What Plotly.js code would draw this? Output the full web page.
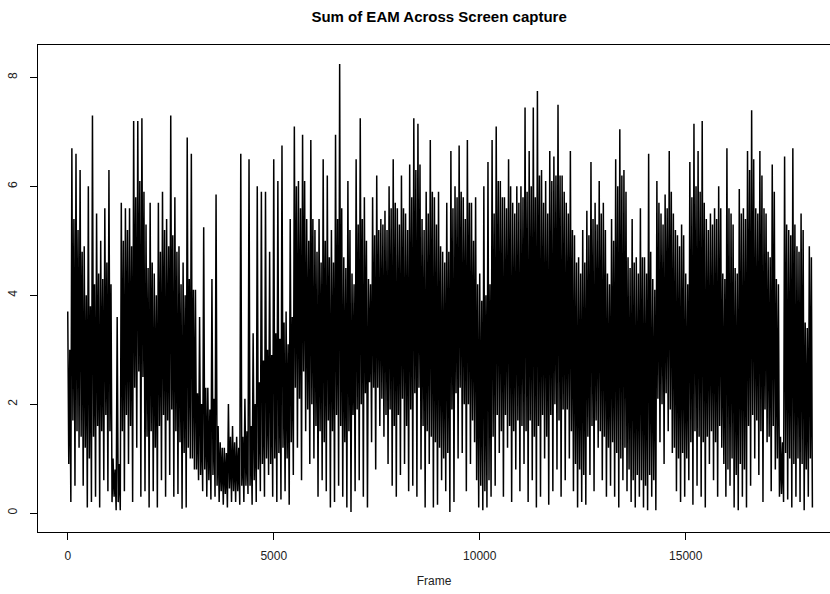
<!DOCTYPE html>
<html>
<head>
<meta charset="utf-8">
<script src="https://cdn.plot.ly/plotly-3.0.1.min.js"></script>
<style>
  html, body { margin: 0; padding: 0; background: #fff; overflow: hidden; }
  #chart { width: 830px; height: 594px; }
</style>
</head>
<body>
<div id="chart"></div>
<script>
// Each block of 100 frames: local peak, core low, core high, local trough
const blockFrames = 100;
const peaks = [
  3.7, 6.7, 6.6, 6.3, 4.9, 6.0, 7.3, 5.5, 5.0, 5.6,
  6.3, 1.0, 3.6, 5.7, 5.6, 5.6, 7.2, 7.2, 7.25, 5.3,
  5.7, 4.4, 5.7, 5.9, 5.4, 7.3, 5.8, 4.9, 4.6, 6.9,
  6.6, 4.1, 3.6, 5.25, 2.3, 4.3, 5.85, 1.3, 1.2, 2.0,
  1.6, 1.4, 6.6, 2.1, 6.5, 3.3, 6.0, 5.9, 5.9, 4.8,
  6.5, 6.1, 6.75, 3.7, 5.4, 7.1, 6.1, 6.95, 5.4, 6.85,
  5.2, 5.4, 6.5, 6.2, 5.2, 6.95, 8.25, 4.7, 6.1, 4.4,
  6.5, 7.25, 5.8, 4.3, 5.8, 6.2, 5.4, 5.55, 6.0, 6.5,
  5.6, 6.2, 5.5, 6.4, 7.25, 7.15, 5.4, 5.9, 6.85, 5.8,
  5.9, 4.8, 5.7, 6.65, 6.0, 6.75, 5.8, 6.85, 5.7, 5.8,
  4.4, 6.0, 6.45, 6.85, 7.1, 6.1, 5.8, 6.5, 5.7, 6.0,
  6.0, 7.45, 6.65, 7.45, 7.75, 6.3, 6.1, 6.65, 6.55, 7.5,
  6.2, 5.7, 6.65, 5.1, 4.7, 5.2, 5.55, 6.45, 5.7, 6.1,
  5.7, 4.4, 5.4, 6.5, 7.05, 6.3, 4.7, 5.4, 4.7, 5.6,
  4.7, 6.6, 4.3, 6.1, 5.5, 5.85, 6.65, 5.5, 5.1, 5.3,
  4.4, 6.45, 7.15, 6.65, 7.2, 5.4, 5.5, 5.6, 6.0, 4.4,
  6.7, 5.5, 4.5, 5.95, 5.6, 6.65, 7.4, 5.6, 6.65, 5.6,
  4.8, 6.4, 4.3, 1.4, 6.55, 5.2, 6.7, 4.9, 5.5, 3.5,
  4.9
];
const coreLow = [
  0.9, 1.7, 1.5, 1.4, 1.2, 1.0, 1.4, 1.6, 1.5, 1.8,
  1.5, 0.3, 0.2, 1.5, 1.8, 1.6, 2.3, 2.6, 2.5, 1.4,
  1.5, 1.2, 1.6, 1.8, 1.7, 1.9, 1.5, 1.3, 1.1, 1.2,
  1.0, 0.8, 0.7, 0.8, 0.6, 0.7, 0.5, 0.4, 0.35, 0.45,
  0.4, 0.4, 0.5, 0.5, 0.5, 0.6, 0.8, 0.9, 1.0, 0.9,
  1.0, 1.1, 1.2, 1.0, 1.3, 2.3, 2.1, 2.6, 1.9, 2.0,
  1.6, 1.5, 1.3, 1.7, 1.5, 1.8, 1.6, 1.3, 1.5, 1.8,
  1.9, 2.0, 2.2, 2.4, 2.3, 2.3, 2.1, 1.8, 1.9, 1.6,
  1.8, 2.1, 1.6, 1.9, 2.2, 2.3, 1.6, 1.5, 1.4, 1.3,
  1.2, 1.0, 1.1, 1.9, 2.2, 2.3, 2.0, 2.0, 1.7, 0.6,
  0.5, 0.4, 0.6, 1.4, 1.8, 1.5, 1.8, 1.6, 1.5, 1.7,
  1.6, 1.5, 1.7, 1.4, 1.6, 1.8, 1.4, 1.8, 2.0, 1.7,
  1.9, 1.9, 1.5, 0.9, 0.8, 0.7, 1.4, 1.6, 1.7, 1.5,
  1.4, 1.2, 1.3, 1.1, 1.0, 1.2, 0.8, 0.6, 0.7, 0.6,
  0.5, 0.7, 0.6, 2.1, 2.0, 2.2, 1.9, 1.2, 1.0, 1.1,
  1.0, 1.3, 1.5, 1.4, 1.3, 1.4, 1.5, 1.3, 1.6, 0.9,
  0.8, 1.0, 0.7, 0.9, 0.8, 1.6, 1.8, 1.7, 1.5, 1.9,
  1.4, 1.6, 1.0, 0.35, 1.1, 1.0, 0.9, 1.0, 0.9, 0.8,
  1.0
];
const coreHigh = [
  3.0, 5.4, 5.2, 4.8, 4.0, 3.8, 4.2, 4.4, 4.3, 4.6,
  4.2, 0.8, 0.9, 5.0, 5.2, 4.9, 5.8, 6.1, 5.9, 4.5,
  4.6, 4.0, 4.8, 5.2, 4.9, 5.1, 4.8, 4.2, 4.0, 4.3,
  4.1, 2.2, 2.0, 2.3, 1.9, 2.1, 1.6, 1.2, 1.1, 1.4,
  1.3, 1.2, 1.4, 1.5, 1.6, 2.0, 2.4, 2.8, 3.0, 2.9,
  3.3, 3.2, 3.5, 3.1, 3.6, 6.0, 5.6, 6.1, 5.0, 5.4,
  4.8, 4.6, 5.0, 4.7, 4.6, 5.4, 5.6, 4.5, 5.2, 4.2,
  5.3, 5.4, 5.0, 4.2, 5.1, 5.2, 5.3, 5.2, 5.6, 5.7,
  5.3, 5.6, 5.2, 5.8, 6.3, 6.4, 5.2, 5.5, 5.9, 5.3,
  4.9, 4.6, 4.8, 5.6, 5.8, 5.9, 5.4, 5.7, 5.0, 4.2,
  3.9, 4.0, 4.2, 5.5, 6.1, 5.8, 5.6, 6.0, 5.5, 5.7,
  5.8, 5.9, 6.0, 5.8, 6.2, 5.7, 5.5, 6.1, 6.2, 6.2,
  5.9, 5.5, 5.2, 4.6, 4.4, 4.6, 5.1, 5.4, 5.3, 5.5,
  5.2, 4.2, 5.0, 6.0, 6.2, 5.9, 4.5, 4.6, 4.4, 4.7,
  4.4, 4.8, 4.1, 5.7, 5.3, 5.6, 5.9, 5.2, 4.9, 5.1,
  4.2, 5.8, 6.0, 5.9, 5.7, 5.2, 5.3, 5.4, 5.6, 4.3,
  5.6, 5.3, 4.4, 5.5, 5.4, 6.3, 6.5, 5.5, 6.2, 5.5,
  4.7, 5.9, 4.2, 1.3, 5.3, 5.1, 5.3, 4.8, 5.2, 3.4,
  4.7
];
const troughs = [
  0.2, 0.5, 1.2, 0.5, 0.1, 0.2, 0.3, 0.1, 0.6, 0.4,
  0.2, 0.05, 0.05, 0.4, 0.9, 0.2, 1.2, 0.3, 0.4, 0.1,
  0.4, 0.1, 0.6, 0.3, 0.7, 0.3, 0.35, 0.08, 0.1, 1.0,
  0.8, 0.6, 0.4, 0.3, 0.25, 0.3, 0.2, 0.15, 0.1, 0.2,
  0.2, 0.15, 0.2, 0.35, 0.15, 0.2, 0.4, 0.3, 0.7, 0.3,
  0.2, 0.25, 0.4, 0.15, 0.7, 1.2, 0.6, 1.5, 0.9, 1.0,
  0.3, 0.6, 0.4, 0.1, 0.2, 0.5, 0.3, 0.1, 0.02, 0.4,
  0.6, 0.3, 0.1, 1.3, 0.8, 1.6, 1.4, 0.9, 0.5, 0.3,
  0.7, 0.9, 0.4, 0.5, 0.3, 0.8, 0.1, 0.9, 0.1, 0.15,
  0.6, 0.4, 0.02, 0.2, 1.0, 1.1, 0.4, 0.9, 1.3, 0.1,
  0.05, 0.1, 0.3, 0.5, 1.1, 0.3, 1.2, 0.2, 0.8, 0.4,
  0.9, 0.2, 0.6, 0.1, 0.3, 1.0, 0.15, 0.4, 0.8, 0.3,
  0.6, 1.0, 0.4, 0.1, 0.2, 0.15, 0.7, 0.4, 1.2, 0.6,
  0.3, 0.5, 0.3, 0.1, 0.6, 0.4, 0.2, 0.1, 0.3, 0.1,
  0.05, 0.3, 0.05, 1.3, 0.9, 1.5, 1.1, 0.4, 0.2, 0.3,
  0.6, 0.15, 0.5, 0.3, 0.1, 0.9, 0.6, 0.3, 1.2, 0.3,
  0.5, 0.1, 0.05, 0.3, 0.1, 0.5, 1.0, 0.7, 0.2, 1.3,
  0.4, 0.8, 0.3, 0.2, 0.25, 0.1, 0.3, 0.2, 0.05, 0.3,
  0.1
];
const lastFrame = 18060;
const lastValue = 2.0;

const xTickVals = [0, 5000, 10000, 15000];
const xTickText = ['0', '5000', '10000', '15000'];
const yTickVals = [0, 2, 4, 6, 8];
const yTickText = ['0', '2', '4', '6', '8'];

const titleText = 'Sum of EAM Across Screen capture';
const xTitle = 'Frame';

// build the series: peak, core low, core high, trough within each block
const xs = [], ys = [];
const q = blockFrames / 4;
for (let i = 0; i < peaks.length; i++) {
  const f = i * blockFrames;
  xs.push(f);         ys.push(peaks[i]);
  xs.push(f + q);     ys.push(coreLow[i]);
  xs.push(f + 2 * q); ys.push(coreHigh[i]);
  xs.push(f + 3 * q); ys.push(troughs[i]);
}
xs.push(lastFrame); ys.push(lastValue);

const FONT = 'Arial, "Liberation Sans", Helvetica, sans-serif';

const trace = {
  x: xs, y: ys, type: 'scatter', mode: 'lines',
  line: {color: '#000000', width: 1.5},
  hoverinfo: 'skip'
};

const layout = {
  width: 830, height: 594,
  margin: {l: 38, r: 0, t: 45, b: 62.3, pad: 0},
  paper_bgcolor: '#ffffff', plot_bgcolor: '#ffffff',
  font: {family: FONT, size: 12, color: '#000'},
  showlegend: false,
  title: {
    text: '<b>' + titleText + '</b>',
    font: {family: FONT, size: 15, color: '#000'},
    x: 0.529, xref: 'container', xanchor: 'center',
    y: 1 - 16.5 / 594, yref: 'container', yanchor: 'middle'
  },
  xaxis: {
    range: [-722, 18502],
    tickmode: 'array', tickvals: xTickVals, ticktext: xTickText,
    ticks: 'outside', ticklen: 7, tickwidth: 1, tickcolor: '#000',
    showline: true, linecolor: '#000', linewidth: 1, mirror: true,
    showgrid: false, zeroline: false,
    tickfont: {family: FONT, size: 12, color: '#222'},
    ticklabelstandoff: 6,
    title: {text: xTitle, font: {family: FONT, size: 12, color: '#222'}, standoff: 14},
    automargin: false, fixedrange: true
  },
  yaxis: {
    range: [-0.349, 8.597],
    tickmode: 'array', tickvals: yTickVals, ticktext: yTickText,
    ticks: 'outside', ticklen: 7, tickwidth: 1, tickcolor: '#000',
    tickangle: -90,
    showline: true, linecolor: '#000', linewidth: 1, mirror: false,
    showgrid: false, zeroline: false,
    tickfont: {family: FONT, size: 12, color: '#222'},
    ticklabelstandoff: 8,
    automargin: false, fixedrange: true
  }
};

Plotly.newPlot('chart', [trace], layout, {displayModeBar: false, staticPlot: true});
</script>
</body>
</html>
